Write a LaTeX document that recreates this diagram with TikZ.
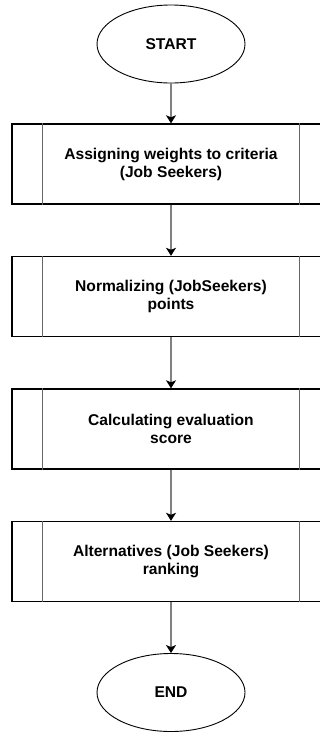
\documentclass[tikz,border=0pt]{standalone}
\usepackage{fontspec}
\setmainfont{Liberation Sans}
\usepackage{tikz}
\usetikzlibrary{shapes,arrows.meta,positioning,calc}

\begin{document}
\begin{tikzpicture}[
            x=1pt, y=-1pt,
            every node/.style={font=\fontsize{15.6}{18}\selectfont\bfseries},
            terminal/.style={draw, ellipse, line width=0.9pt, minimum width=148pt, minimum height=78pt, inner sep=0pt},
            process/.style={draw, line width=1.4pt, minimum width=318pt, minimum height=80pt, align=center, inner sep=0pt},
            edge/.style={draw=black!50, line width=1.1pt, line width=1.1pt, -{Stealth[black, length=8pt, width=10pt, inset=2pt]}},
        ]
            \useasboundingbox (0,0) rectangle (320,734);
            \node[terminal] (start) at (171,44) {START};
            \node[process] (weights) at (171,164) {Assigning weights to criteria\\(Job Seekers)};
            \node[process] (normalize) at (171,296.5) {Normalizing (JobSeekers)\\points};
            \node[process] (score) at (171,429) {Calculating evaluation\\score};
            \node[process] (ranking) at (171,561.5) {Alternatives (Job Seekers)\\ranking};
            \node[terminal] (stop) at (171,692.5) {END};
            % side bars of the predefined process boxes
            \foreach \p in {weights,normalize,score,ranking} {
                \draw[black!60, line width=1pt] ([xshift=31pt]\p.north west) -- ([xshift=31pt]\p.south west);
                \draw[black!60, line width=1pt] ([xshift=-31pt]\p.north east) -- ([xshift=-31pt]\p.south east);
            }
            \draw[edge] (start) -- (weights);
            \draw[edge] (weights) -- (normalize);
            \draw[edge] (normalize) -- (score);
            \draw[edge] (score) -- (ranking);
            \draw[edge] (ranking) -- (stop);
        \end{tikzpicture}
\end{document}
